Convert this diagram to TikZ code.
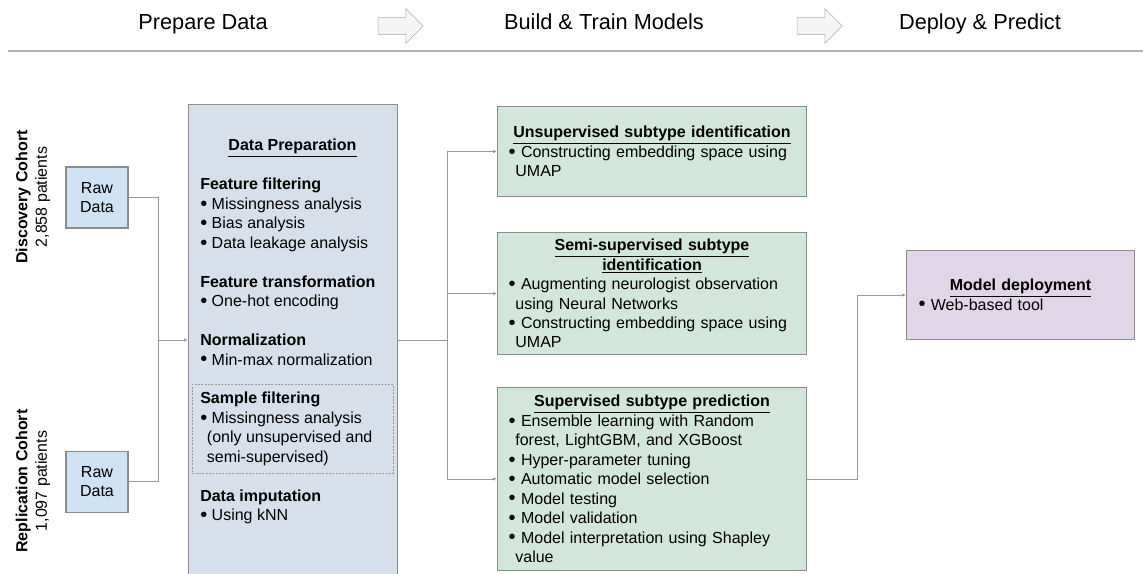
\documentclass[tikz,border=0pt]{standalone}
\usepackage{fontspec}
\setmainfont{Liberation Sans}
\usepackage{xcolor}
\usepackage{tikz}
\usetikzlibrary{arrows.meta,shapes.arrows,positioning}

\definecolor{rawblue}{HTML}{CFE2F3}
\definecolor{prepblue}{HTML}{D6DFEA}
\definecolor{modelgreen}{HTML}{D2E6DC}
\definecolor{deploypurple}{HTML}{E1D5E8}
\definecolor{edgegray}{HTML}{8C8C8C}
\definecolor{wiregray}{HTML}{999999}

\newcommand{\bul}{\raisebox{-0.6pt}{\fontsize{15pt}{15pt}\selectfont\textbullet}\ }
\newcommand{\indnt}{\hspace*{5pt}}

\begin{document}
\begin{tikzpicture}[x=0.75pt, y=-0.75pt,
  every node/.style={font=\fontsize{12pt}{14.6pt}\selectfont},
  phase/.style={font=\fontsize{16.3pt}{19pt}\selectfont, anchor=base},
  chevron/.style={single arrow, draw=gray!65, fill=gray!8, inner sep=0pt, text height=12pt, text depth=0pt, minimum height=33.75pt, minimum width=25.5pt, single arrow head extend=6.75pt},
  rawbox/.style={draw=edgegray, line width=0.8pt, fill=rawblue, minimum width=46.5pt, minimum height=45.75pt, align=center},
  prepbox/.style={draw=edgegray, line width=0.8pt, fill=prepblue, anchor=north west, minimum width=156.75pt, minimum height=372pt},
  modelbox/.style={draw=edgegray, line width=0.8pt, fill=modelgreen, anchor=north west, minimum width=231.75pt, text width=215pt, inner xsep=8pt, inner ysep=2pt},
  deploybox/.style={draw=edgegray, line width=0.8pt, fill=deploypurple, anchor=north west, minimum width=171pt, minimum height=66.75pt, text width=153pt, inner xsep=9pt},
  heading/.style={font=\fontsize{12pt}{14.6pt}\selectfont\bfseries, anchor=base},
  wire/.style={draw=wiregray, line width=0.75pt},
  arr/.style={wire, -{Latex[length=3pt,width=2.6pt]}},
]
\clip (0,0) rectangle (1143,574);

% phases along the top
\node[phase] (hprep) at (203,30) {Prepare Data};
\node[phase] (hbuild) at (604,30) {Build \& Train Models};
\node[phase] (hdeploy) at (980,30) {Deploy \& Predict};
\node[chevron] (go1) at (396.5,26) {};
\node[chevron] (go2) at (815.5,26) {};
\draw[gray!60, line width=1.4pt] (8,51) -- (1143,51);

% cohorts
\node[rotate=90, align=center] (disc) at (33,197) {\textbf{Discovery Cohort}\\2,858 patients};
\node[rotate=90, align=center] (repl) at (33,481) {\textbf{Replication Cohort}\\1,097 patients};
\node[rawbox] (raw1) at (97,197.5) {Raw\\Data};
\node[rawbox, below=166.5pt of raw1] (raw2) {Raw\\Data};

% data preparation
\node[prepbox] (prep) at (188,104) {};
\node[draw=gray!80, line width=0.5pt, dash pattern=on 1.5pt off 1pt, anchor=north west,
      minimum width=150.75pt, minimum height=66.75pt] (sampbox) at (192,384) {};
\node[heading] (preptitle) at (292.5,151) {\underline{Data Preparation}};
\node[anchor=north west, align=left, inner sep=0pt] (prepsteps) at (200,178) {%
  \textbf{Feature filtering}\\
  \bul Missingness analysis\\
  \bul Bias analysis\\
  \bul Data leakage analysis\\[14.6pt]
  \textbf{Feature transformation}\\
  \bul One-hot encoding\\[14.6pt]
  \textbf{Normalization}\\
  \bul Min-max normalization\\[14.6pt]
  \textbf{Sample filtering}\\
  \bul Missingness analysis\\
  \indnt(only unsupervised and\\
  \indnt semi-supervised)\\[14.6pt]
  \textbf{Data imputation}\\
  \bul Using kNN};

% models
\node[modelbox, minimum height=67.5pt] (unsup) at (497,106) {%
  {\centering\textbf{\underline{Unsupervised subtype identification}}\par}
  \raggedright
  \bul Constructing embedding space using\\
  \indnt UMAP};
\node[modelbox, minimum height=91.5pt, below=26.25pt of unsup.south west, anchor=north west] (semi) {%
  {\centering\textbf{\underline{Semi-supervised subtype}}\\
  \textbf{\underline{identification}}\par}
  \raggedright
  \bul Augmenting neurologist observation\\
  \indnt using Neural Networks\\
  \bul Constructing embedding space using\\
  \indnt UMAP};
\node[modelbox, minimum height=137pt, below=24pt of semi.south west, anchor=north west] (sup) {%
  {\centering\textbf{\underline{Supervised subtype prediction}}\par}
  \raggedright
  \bul Ensemble learning with Random\\
  \indnt forest, LightGBM, and XGBoost\\
  \bul Hyper-parameter tuning\\
  \bul Automatic model selection\\
  \bul Model testing\\
  \bul Model validation\\
  \bul Model interpretation using Shapley\\
  \indnt value};

% deployment
\node[deploybox] (deploy) at (906,250) {%
  {\centering\textbf{\underline{Model deployment}}\par}
  \raggedright
  \bul Web-based tool};

% connectors
\coordinate (jn) at (158,340);
\coordinate (split) at (447,340);
\draw[wire] (raw1.east) -| (jn);
\draw[wire] (raw2.east) -| (jn);
\draw[arr] (jn) -- (jn -| prep.west);
\draw[wire] (jn -| prep.east) -- (split);
\draw[arr] (split) |- (unsup.west);
\draw[arr] (split) |- (semi.west);
\draw[arr] (split) |- (sup.west);
\draw[arr] (sup.east) -- ++(50,0) |- (deploy.west);
\end{tikzpicture}
\end{document}
